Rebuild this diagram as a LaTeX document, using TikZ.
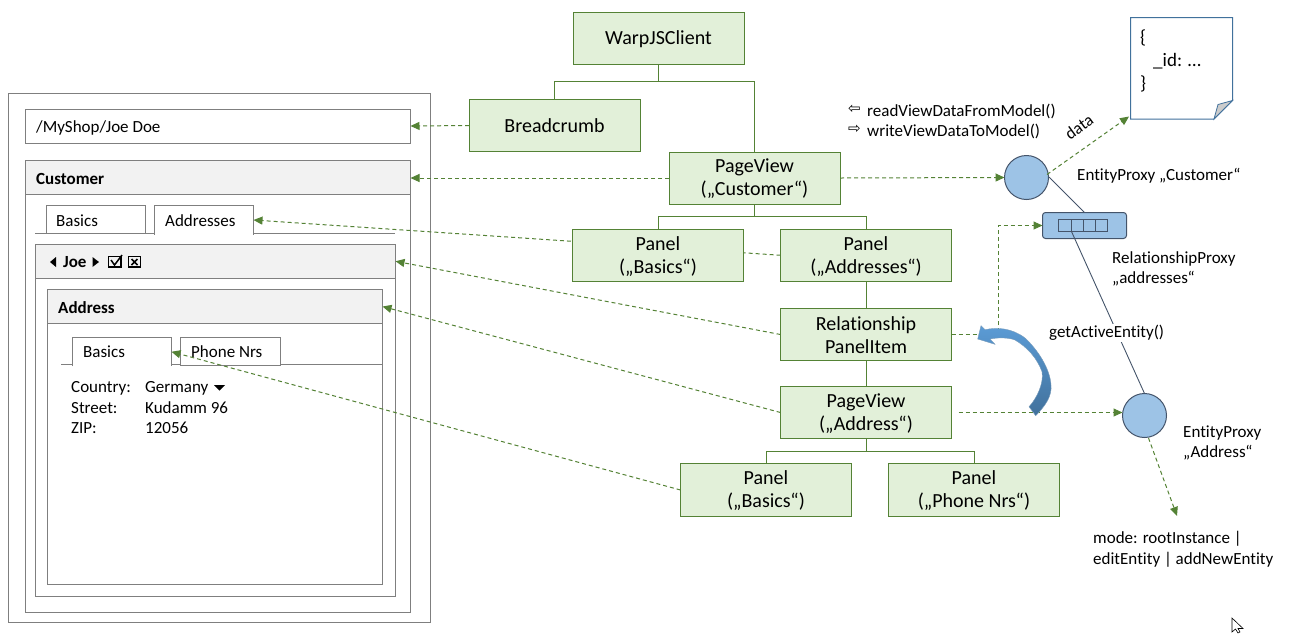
\documentclass[tikz,border=0pt]{standalone}
\usepackage{fontspec}
\setmainfont[Ligatures=NoCommon]{Carlito}
\newfontfamily\symfont{DejaVu Sans}
\usetikzlibrary{arrows.meta}
\pgfdeclarelayer{front}
\pgfsetlayers{main,front}
\definecolor{gline}{HTML}{548235}
\definecolor{gfill}{HTML}{E2F0D9}
\definecolor{wire}{HTML}{7F7F7F}
\definecolor{head}{HTML}{F2F2F2}
\definecolor{bfill}{HTML}{9DC3E6}
\definecolor{bline}{HTML}{44546A}
\definecolor{docline}{HTML}{41719C}
\definecolor{arrowtop}{HTML}{5B9BD5}
\newcommand\bx[7][]{%
  \pgfmathsetmacro\bw{#5-#3}\pgfmathsetmacro\bh{#6-#4}%
  \pgfmathsetmacro\bcx{(#3+#5)/2}\pgfmathsetmacro\bcy{(#4+#6)/2}%
  \node[#1,minimum width=\bw pt,minimum height=\bh pt] (#2) at (\bcx,\bcy) {#7};}
\newcommand\gbx[6]{%
  \bx[gbox]{#1}{#2}{#3}{#4}{#5}{}%
  \node[gtext] (#1t) at (\bcx,\bcy+1) {#6};}
\newcommand\lab[4]{\node[lbl] (#1) at (#2,#3+1) {#4};}
\tikzset{
  x=1pt,y=-1pt,
  base/.style={inner sep=0pt,outer sep=0pt,line width=1pt},
  gbox/.style={base,draw=gline,fill=gfill},
  gtext/.style={inner sep=0pt,align=center,font=\fontsize{20}{23}\selectfont},
  wbox/.style={base,draw=wire,fill=white},
  hbox/.style={base,draw=wire,fill=head},
  tabopen/.style={base,fill=white},
  lbl/.style={inner sep=0pt,anchor=west,align=left,font=\fontsize{17}{20.5}\selectfont},
  bold/.style={lbl,font=\fontsize{17}{20}\selectfont\bfseries},
  tree/.style={draw=gline,line width=1pt},
  dep/.style={draw=gline,line width=1pt,dash pattern=on 4pt off 3pt,-{Triangle[length=9pt,width=8pt]}},
  proxy/.style={circle,draw=bline,fill=bfill,line width=1pt,minimum size=44pt,inner sep=0pt,outer sep=0pt},
  link/.style={draw=bline,line width=.9pt},
}
\begin{document}
\begin{tikzpicture}
\useasboundingbox (0,0) rectangle (1296,633);
% wireframe
\bx[wbox]{frame}{8}{93}{430}{622}{}
\bx[wbox]{crumb}{25.5}{109.5}{410.5}{143}{}
\lab{crumbt}{36}{127}{/MyShop/Joe Doe}
\bx[wbox]{cust}{25.5}{160.5}{410.5}{612}{}
\bx[hbox]{custh}{25.5}{160.5}{410.5}{194.5}{}
\node[bold] (custt) at (36,178.5) {Customer};
\coordinate (tl1) at (35,233.5);
\coordinate (tl2) at (395,233.5);
\draw[draw=wire,line width=1pt] (tl1) -- (tl2);
\bx[wbox]{tb1}{46}{205.5}{145.5}{233.5}{}
\bx[tabopen]{tb2}{154.5}{205.5}{253.5}{234.5}{}
\draw[draw=wire,line width=1pt] (tb2.south west) -- (tb2.north west) -- (tb2.north east) -- (tb2.south east);
\lab{tb1t}{56}{219.5}{Basics}
\lab{tb2t}{165}{219.5}{Addresses}
\bx[wbox]{joe}{35.5}{244.5}{395.5}{596}{}
\bx[hbox]{joeh}{35.5}{244.5}{395.5}{278}{}
\node[bold] (joet) at (63,262.5) {Joe};
\fill (50,262) -- (56,257) -- (56,267) -- cycle;
\fill (99,262) -- (92.5,257) -- (92.5,267) -- cycle;
\draw[line width=1.4pt] (108.5,256.5) rectangle (121,267);
\draw[line width=1.5pt] (111,260) -- (114.5,265) -- (122,255);
\draw[line width=1.4pt] (128.5,256.5) rectangle (140.5,267);
\draw[line width=1.5pt] (131.5,259) -- (137.5,265) (137.5,259) -- (131.5,265);
\bx[wbox]{addr}{47.5}{289.5}{382.5}{584}{}
\bx[hbox]{addrh}{47.5}{289.5}{382.5}{323.5}{}
\node[bold] (addrt) at (58,307.5) {Address};
\coordinate (il1) at (61,364.5);
\coordinate (il2) at (382,364.5);
\draw[draw=wire,line width=1pt] (il1) -- (il2);
\bx[tabopen]{ib1}{72.5}{337.5}{171.5}{366}{}
\draw[draw=wire,line width=1pt] (ib1.south west) -- (ib1.north west) -- (ib1.north east) -- (ib1.south east);
\bx[wbox]{ib2}{180.5}{337.5}{280.5}{365.5}{}
\lab{ib1t}{83}{350.5}{Basics}
\lab{ib2t}{191}{350.5}{Phone Nrs}
\lab{f1}{71}{387}{Country:}
\lab{f2}{71}{407}{Street:}
\lab{f3}{71}{427}{ZIP:}
\lab{v1}{145}{387}{Germany}
\lab{v2}{145}{407}{Kudamm 96}
\lab{v3}{145}{427}{12056}
\fill (214,385) -- (225,385) -- (219.5,390.5) -- cycle;
% green boxes
\gbx{warp}{573}{12}{744}{64}{WarpJSClient}
\gbx{bc}{469}{99}{640}{151}{Breadcrumb}
\gbx{pvc}{669}{152}{840}{204}{PageView\\(„Customer“)}
\begin{pgfonlayer}{front}
\gbx{pba}{572.5}{229.5}{743.5}{281}{Panel\\(„Basics“)}
\end{pgfonlayer}
\gbx{pad}{780.5}{229.5}{951.5}{281}{Panel\\(„Addresses“)}
\gbx{rel}{780.5}{308.5}{951.5}{360.5}{Relationship\\PanelItem}
\gbx{pva}{780.5}{386.5}{951.5}{438.5}{PageView\\(„Address“)}
\gbx{pb2}{680.5}{463.5}{851.5}{516.5}{Panel\\(„Basics“)}
\gbx{pph}{888.5}{463.5}{1059.5}{516.5}{Panel\\(„Phone Nrs“)}
% tree
\draw[tree] (warp.south) -- ++(0,17) -| (bc.north);
\draw[tree] (warp.south) -- ++(0,17) -| (pvc.north);
\draw[tree] (pvc.south) -- ++(0,12) -| (pba.north);
\draw[tree] (pvc.south) -- ++(0,12) -| (pad.north);
\draw[tree] (pad.south) -- (rel.north);
\draw[tree] (rel.south) -- (pva.north);
\draw[tree] (pva.south) -- ++(0,12.5) -| (pb2.north);
\draw[tree] (pva.south) -- ++(0,12.5) -| (pph.north);
% proxies
\node[proxy] (c1) at (1026.5,177.5) {};
\node[proxy] (c2) at (1144.5,415.5) {};
\bx[base,draw=bline,fill=bfill,rounded corners=3pt]{rp}{1042.5}{212.5}{1126.5}{238.5}{}
\bx[base,draw=bline,fill=bfill]{cells}{1058.5}{219.5}{1107.5}{231.5}{}
\coordinate (cd1) at (1071.5,219.5);\coordinate (cd1b) at (1071.5,231.5);
\coordinate (cd2) at (1083.5,219.5);\coordinate (cd2b) at (1083.5,231.5);
\coordinate (cd3) at (1095.5,219.5);\coordinate (cd3b) at (1095.5,231.5);
\draw[link] (cd1) -- (cd1b) (cd2) -- (cd2b) (cd3) -- (cd3b);
\coordinate (c1out) at (1049,177);
\draw[link] (c1out) -- (rp.north);
\draw[link] (cd1b) -- (c2.north);
% document
\coordinate (d1) at (1130.5,17.5);\coordinate (d2) at (1232.5,17.5);
\coordinate (d3) at (1232.5,100.5);\coordinate (d4) at (1214,119);
\coordinate (d5) at (1130.5,119);\coordinate (d6) at (1218,104.5);
\coordinate (docin) at (1129,116.5);
\draw[draw=docline,fill=white,line width=1pt] (d1) -- (d2) -- (d3) -- (d4) -- (d5) -- cycle;
\draw[draw=docline,fill=black!20,line width=.8pt] (d4) -- (d6) -- (d3) -- cycle;
\node[lbl,font=\fontsize{19}{23}\selectfont] (doct) at (1140,61) {\{\\\hspace*{13pt}\_id: …\\\}};
% dashed dependencies
\draw[dep] (bc.west |- 0,125.5) -- (crumb.east |- 0,126);
\draw[dep] (pvc.west) -- (custh.east |- pvc.west);
\draw[dep] (pad.west) -- (tb2.east);
\draw[dep] (rel.west) -- (joeh.east);
\draw[dep] (pva.west) -- (addrh.east);
\draw[dep] (pb2.west) -- (ib1.east);
\draw[dep] (pvc.east) -- (c1.west);
\coordinate (c1data) at (1047,174.5);
\draw[dep] (c1data) -- (docin);
\draw[dep] (rel.east) -- (998,334.5) |- (rp.west);
\draw[dep,shorten <=7pt] (pva.east) -- (pva.east -| c2.west);
\coordinate (modeend) at (1177,516);
\coordinate (c2out) at (1148.5,438);
\draw[dep] (c2out) -- (modeend);
% curved arrow
\path[draw=docline!70!white,line width=.4pt,top color=arrowtop,bottom color=docline] (1035.7,415.7) .. controls (1046,405) and (1052,396) .. (1051,385) .. controls (1050,368) and (1037,349) .. (1025,338) .. controls (1012,328) and (997,327) .. (985,329.7) -- (981,325.7) -- (977.7,339) -- (995,344.3) -- (990,339) .. controls (1000,337) and (1010,338) .. (1015,340) .. controls (1027,347) and (1037,358) .. (1042,371.7) .. controls (1044,383) and (1037,398) .. (1029,406.7) -- cycle;
% labels
\node[lbl,font=\fontsize{15}{17}\selectfont\symfont] (ar1) at (848,109.5) {⇦};
\node[lbl,font=\fontsize{15}{17}\selectfont\symfont] (ar2) at (848,129.5) {⇨};
\lab{m1}{867}{110}{readViewDataFromModel()}
\lab{m2}{867}{130}{writeViewDataToModel()}
\node[lbl,anchor=center,rotate=36] (dt) at (1079,127) {data};
\lab{e1}{1077}{175}{EntityProxy „Customer“}
\lab{r1}{1112}{268}{RelationshipProxy\\„addresses“}
\node[lbl,fill=white,inner ysep=1pt] (gae) at (1049,333) {getActiveEntity()};
\lab{e2}{1183}{442}{EntityProxy\\„Address“}
\lab{mode}{1093}{548}{mode: rootInstance |\\editEntity | addNewEntity}
% cursor
\draw[black,fill=white,line width=.6pt] (1232,618) -- (1232,632) -- (1235.5,629) -- (1238,633) -- (1240,632) -- (1238,628.5) -- (1243,628.5) -- cycle;
\end{tikzpicture}
\end{document}
